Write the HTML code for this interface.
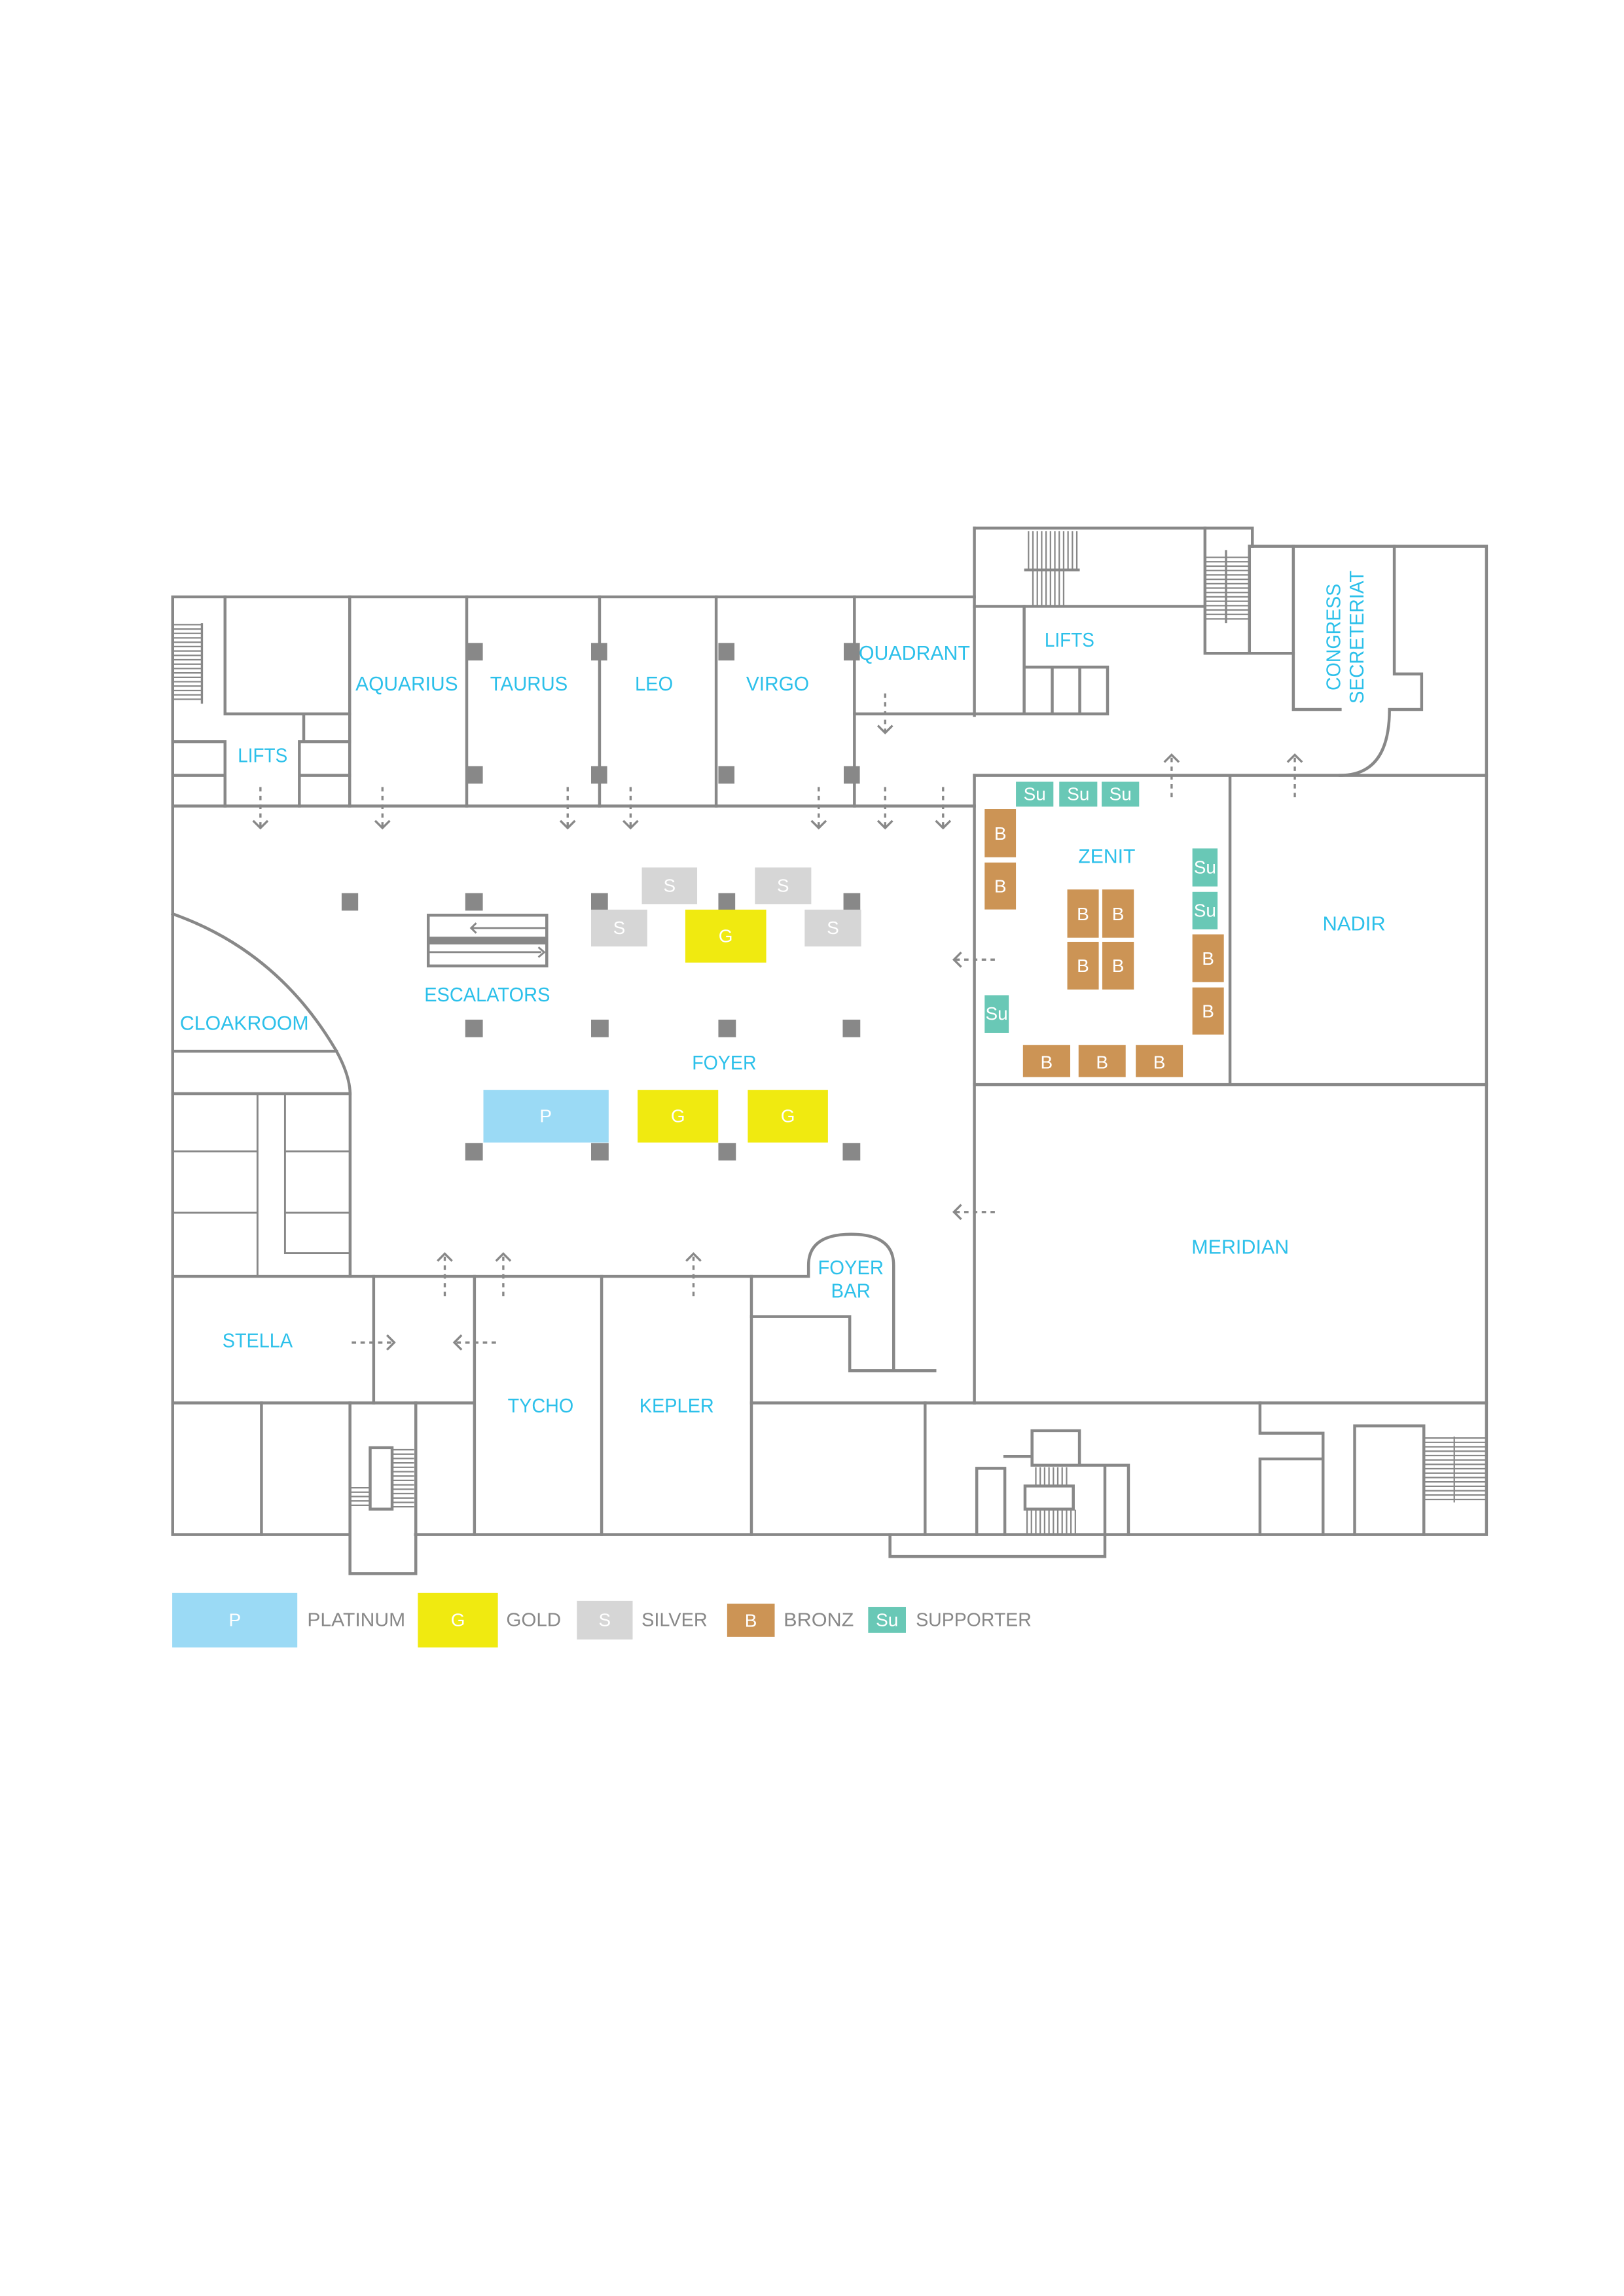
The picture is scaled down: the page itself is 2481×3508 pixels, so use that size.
<!DOCTYPE html>
<html><head><meta charset="utf-8"><style>
html,body{margin:0;padding:0;background:#fff}
svg{display:block}
text{font-family:"Liberation Sans",sans-serif}
.l{fill:#2cc0ea;font-size:13.5px}
.w{fill:#fff;font-size:12.5px;text-anchor:middle}
.g{fill:#888;font-size:13px}
</style></head><body>
<svg width="2481" height="3508" viewBox="0 0 1110 1569.5" xmlns="http://www.w3.org/2000/svg">
<g fill="none" stroke="#888" stroke-width="2" stroke-linecap="square">
<path d="M118 408 H666 M118 408 V1049 H239 M284 1049 H1016 V373.4 H854"/>
<path d="M666 361 H856 V373.4"/>
<path d="M666 361 V489 M666 530 V959"/>
<path d="M118 551 H666"/>
<path d="M239 408 V551 M319 408 V551 M409.8 408 V551 M489.5 408 V551 M584 408 V551"/>
<path d="M153.8 408 V488 H239 M207.6 488 V507 M118 507 H153.8 V551 M118 530 H153.8 M204.6 507 H239 M204.6 507 V551 M204.6 530 H239"/>
<path d="M584 488 H757 V456 H700 M700 414.5 V488 M719.2 456 V488 M738 456 V488"/>
<path d="M666 414.5 H823.6 M823.6 361 V446.6 H884 M854 373.4 V446.6"/>
<path d="M884 373.4 V485 H916 M953 373.4 V460.7 H971.7 V485 H949.7 Q949.7 530 916 530"/>
<path d="M666 530 H1016 M840.7 530 V741.4 M666 741.4 H1016 M666 959 H1016"/>
<path d="M118 624.7 Q190 650 230 718.6 Q239 735 239.3 747.6 V872.5"/>
<path d="M118 718.6 H230 M118 747.6 H239.3"/>
<path d="M118 872.5 H552.6 V865 Q552.6 843.7 581.7 843.7 Q610.8 843.7 610.8 865 V937 M580.8 937 H639 M513.6 900 H580.8 V937"/>
<path d="M513.6 872.5 V1049"/>
<path d="M118 959 H323 M513.6 959 H666"/>
<path d="M255.4 872.5 V959 M324.3 872.5 V1049 M411.2 872.5 V1049"/>
<path d="M178.7 959 V1049 M239.2 959 V1075.7 H284.2 V959"/>
<path d="M632.3 959 V1049 M608.3 1049 V1064 H755.2 V1049"/>
<path d="M667.6 1049 V1003.7 H686.8 V1049 M686.8 995.6 H705.4 M705.4 978 H737.8 V1001.6 M705.4 978 V1001.6 H771.3 V1049 M755.2 1001.6 V1049"/>
<rect x="700.6" y="1015.8" width="33" height="15.8"/>
<path d="M861.2 959 V979.7 H904.3 V1049 M861.2 997.3 H904.3 M861.2 997.3 V1049 M925.9 1049 V974.7 H973.2 V1049"/>
<rect x="253" y="989.6" width="15" height="42"/>
<rect x="292.7" y="625.6" width="81" height="34.7"/>
</g>
<g stroke="#888" fill="none" stroke-width="1.3">
<path d="M176 747.6 V872.5 M194.8 747.6 V856.6 H239 M118 787 H176 M194.8 787 H239 M118 829 H176 M194.8 829 H239"/>
<path d="M322.5 634.4 H373 M325.5 631 L322 634.4 L325.5 637.8 M292.7 650.9 H370 M368 647.5 L372 650.9 L368 654.3"/>
</g>
<rect x="292.7" y="640.3" width="81" height="5.3" fill="#888"/>
<g stroke="#888" stroke-width="1">
<path d="M119 427 H138 M119 430 H138 M119 433 H138 M119 436 H138 M119 439 H138 M119 442 H138 M119 445 H138 M119 448 H138 M119 451 H138 M119 454 H138 M119 457 H138 M119 460 H138 M119 463 H138 M119 466 H138 M119 469 H138 M119 472 H138 M119 475 H138 M119 478 H138"/>
<path d="M138 426 V481" stroke-width="1.5"/>
<path d="M703 363 V389 M706 363 V389 M709 363 V389 M712 363 V389 M715 363 V389 M718 363 V389 M721 363 V389 M724 363 V389 M727 363 V389 M730 363 V389 M733 363 V389 M736 363 V389"/>
<path d="M706 390 V414 M709 390 V414 M712 390 V414 M715 390 V414 M718 390 V414 M721 390 V414 M724 390 V414 M727 390 V414"/>
<path d="M700 389.6 H738" stroke-width="2"/>
<path d="M824 381 H854 M824 384 H854 M824 387 H854 M824 390 H854 M824 393 H854 M824 396 H854 M824 399 H854 M824 402 H854 M824 405 H854 M824 408 H854 M824 411 H854 M824 414 H854 M824 417 H854 M824 420 H854 M824 423 H854"/>
<path d="M838 376 V426" stroke-width="1.5"/>
<path d="M268 991 H283 M268 994 H283 M268 997 H283 M268 1000 H283 M268 1003 H283 M268 1006 H283 M268 1009 H283 M268 1012 H283 M268 1015 H283 M268 1018 H283 M268 1021 H283 M268 1024 H283 M268 1027 H283 M268 1030 H283"/>
<path d="M239 1017 H253 M239 1020 H253 M239 1023 H253 M239 1026 H253 M239 1029 H253"/>
<path d="M708 1003 V1015 M711 1003 V1015 M714 1003 V1015 M717 1003 V1015 M720 1003 V1015 M723 1003 V1015 M726 1003 V1015 M729 1003 V1015"/>
<path d="M702 1032 V1049 M705 1032 V1049 M708 1032 V1049 M711 1032 V1049 M714 1032 V1049 M717 1032 V1049 M720 1032 V1049 M723 1032 V1049 M726 1032 V1049 M729 1032 V1049 M732 1032 V1049 M735 1032 V1049"/>
<path d="M973 983 H1016 M973 986 H1016 M973 989 H1016 M973 992 H1016 M973 995 H1016 M973 998 H1016 M973 1001 H1016 M973 1004 H1016 M973 1007 H1016 M973 1010 H1016 M973 1013 H1016 M973 1016 H1016 M973 1019 H1016 M973 1022 H1016 M973 1025 H1016"/>
<path d="M994 982 V1027"/>
</g>
<g fill="#888">
<rect x="319" y="439.5" width="11" height="12"/><rect x="404" y="439.5" width="11" height="12"/><rect x="491" y="439.5" width="11" height="12"/><rect x="576.7" y="439.5" width="11" height="12"/>
<rect x="319" y="523.7" width="11" height="12"/><rect x="404" y="523.7" width="11" height="12"/><rect x="491" y="523.7" width="11" height="12"/><rect x="576.7" y="523.7" width="11" height="12"/>
<rect x="233.5" y="610.5" width="11.3" height="12"/><rect x="318" y="610.5" width="12" height="12"/><rect x="404" y="610.5" width="11.5" height="12"/><rect x="491" y="610.5" width="11.5" height="12"/><rect x="576.5" y="610.5" width="11.5" height="12"/>
<rect x="318" y="697" width="12" height="12"/><rect x="404" y="697" width="12" height="12"/><rect x="491" y="697" width="12" height="12"/><rect x="576" y="697" width="12" height="12"/>
<rect x="318" y="781.3" width="12" height="12"/><rect x="404" y="781.3" width="12" height="12"/><rect x="491" y="781.3" width="12" height="12"/><rect x="576" y="781.3" width="12" height="12"/>
</g>
<g fill="none" stroke="#888" stroke-width="1.5">
<g stroke-dasharray="3,3">
<path d="M178 538 V565 M261.4 538 V565 M388 538 V565 M431 538 V565 M559.6 538 V565 M605 538 V565 M644.6 538 V565 M605 474 V500"/>
<path d="M800.8 518 V545 M885 518 V545 M304 859 V886 M344 859 V886 M474 859 V886"/>
<path d="M653 656 H682 M653 828.5 H682 M240.4 917.7 H268 M312 917.7 H340"/>
</g>
<path d="M173 561 L178 566 L183 561 M256.4 561 L261.4 566 L266.4 561 M383 561 L388 566 L393 561 M426 561 L431 566 L436 561 M554.6 561 L559.6 566 L564.6 561 M600 561 L605 566 L610 561 M639.6 561 L644.6 566 L649.6 561 M600 496 L605 501 L610 496"/>
<path d="M795.8 521 L800.8 516 L805.8 521 M880 521 L885 516 L890 521 M299 862 L304 857 L309 862 M339 862 L344 857 L349 862 M469 862 L474 857 L479 862"/>
<path d="M657 651 L652 656 L657 661 M657 823.5 L652 828.5 L657 833.5 M264.5 912.7 L269.5 917.7 L264.5 922.7 M315.5 912.7 L310.5 917.7 L315.5 922.7"/>
</g>
<g fill="#d6d6d6"><rect x="438.7" y="593" width="37.8" height="25"/><rect x="516" y="593" width="38.5" height="25"/><rect x="404" y="621.8" width="38.4" height="25.2"/><rect x="550" y="621.8" width="38.6" height="25.2"/></g>
<rect x="468.4" y="621.8" width="55.3" height="36.2" fill="#f0ea10"/>
<rect x="330.4" y="745" width="85.6" height="36" fill="#9bdaf5"/>
<rect x="435.8" y="745" width="55.1" height="36" fill="#f0ea10"/>
<rect x="511.1" y="745" width="54.8" height="36" fill="#f0ea10"/>
<g fill="#69c8b6">
<rect x="694.4" y="534.4" width="25.6" height="17"/><rect x="724" y="534.4" width="26" height="17"/><rect x="753" y="534.4" width="25.6" height="17"/>
<rect x="815" y="580" width="17.2" height="26"/><rect x="815" y="609.7" width="17.2" height="25.6"/><rect x="673" y="680.3" width="16.5" height="25.7"/>
</g>
<g fill="#cc9455">
<rect x="673" y="553" width="21.4" height="33"/><rect x="673" y="589.6" width="21.4" height="32.1"/>
<rect x="729.5" y="608" width="21.5" height="33"/><rect x="753.4" y="608" width="21.6" height="33"/><rect x="729.5" y="643.8" width="21.5" height="32.6"/><rect x="753.4" y="643.8" width="21.6" height="32.6"/>
<rect x="815" y="638.7" width="21.5" height="32.6"/><rect x="815" y="675" width="21.5" height="32.2"/>
<rect x="699.2" y="714.4" width="32.3" height="21.9"/><rect x="737.2" y="714.4" width="32.2" height="21.9"/><rect x="776.3" y="714.4" width="32.2" height="21.9"/>
</g>
<g class="w">
<text x="457.6" y="609.5">S</text><text x="535.2" y="609.5">S</text><text x="423.2" y="638.5">S</text><text x="569.3" y="638.5">S</text>
<text x="496" y="644">G</text><text x="373" y="767">P</text><text x="463.4" y="767">G</text><text x="538.5" y="767">G</text>
<text x="707.2" y="547">Su</text><text x="737" y="547">Su</text><text x="765.8" y="547">Su</text>
<text x="823.6" y="597">Su</text><text x="823.6" y="626.5">Su</text><text x="681.2" y="697">Su</text>
<text x="683.7" y="574">B</text><text x="683.7" y="610">B</text>
<text x="740.2" y="629">B</text><text x="764.2" y="629">B</text><text x="740.2" y="664.5">B</text><text x="764.2" y="664.5">B</text>
<text x="825.7" y="659.5">B</text><text x="825.7" y="695.5">B</text>
<text x="715.3" y="730.5">B</text><text x="753.3" y="730.5">B</text><text x="792.4" y="730.5">B</text>
</g>
<g class="l">
<text x="243" y="472" textLength="70" lengthAdjust="spacingAndGlyphs">AQUARIUS</text>
<text x="335" y="472" textLength="53" lengthAdjust="spacingAndGlyphs">TAURUS</text>
<text x="434" y="472" textLength="26" lengthAdjust="spacingAndGlyphs">LEO</text>
<text x="510" y="472" textLength="43" lengthAdjust="spacingAndGlyphs">VIRGO</text>
<text x="587" y="451" textLength="76" lengthAdjust="spacingAndGlyphs">QUADRANT</text>
<text x="162.5" y="521" textLength="34" lengthAdjust="spacingAndGlyphs">LIFTS</text>
<text x="714" y="442" textLength="34" lengthAdjust="spacingAndGlyphs">LIFTS</text>
<text x="737" y="590" textLength="39" lengthAdjust="spacingAndGlyphs">ZENIT</text>
<text x="904" y="636" textLength="43" lengthAdjust="spacingAndGlyphs">NADIR</text>
<text x="814.4" y="857" textLength="66.6" lengthAdjust="spacingAndGlyphs">MERIDIAN</text>
<text x="290" y="684.5" textLength="86" lengthAdjust="spacingAndGlyphs">ESCALATORS</text>
<text x="123" y="704" textLength="88" lengthAdjust="spacingAndGlyphs">CLOAKROOM</text>
<text x="473" y="731" textLength="44" lengthAdjust="spacingAndGlyphs">FOYER</text>
<text x="559" y="871" textLength="45" lengthAdjust="spacingAndGlyphs">FOYER</text>
<text x="568" y="887" textLength="27" lengthAdjust="spacingAndGlyphs">BAR</text>
<text x="152" y="921" textLength="48" lengthAdjust="spacingAndGlyphs">STELLA</text>
<text x="347" y="965.5" textLength="45" lengthAdjust="spacingAndGlyphs">TYCHO</text>
<text x="437" y="965.5" textLength="51" lengthAdjust="spacingAndGlyphs">KEPLER</text>
<text transform="translate(916 472) rotate(-90)" textLength="73" lengthAdjust="spacingAndGlyphs">CONGRESS</text>
<text transform="translate(932 481) rotate(-90)" textLength="91" lengthAdjust="spacingAndGlyphs">SECRETERIAT</text>
</g>
<rect x="117.7" y="1088.9" width="85.5" height="37.3" fill="#9bdaf5"/>
<rect x="285.6" y="1088.9" width="54.7" height="37.3" fill="#f0ea10"/>
<rect x="394.3" y="1094.3" width="38.1" height="26.4" fill="#d6d6d6"/>
<rect x="497" y="1096.3" width="32.5" height="22.6" fill="#cc9455"/>
<rect x="593.4" y="1098.4" width="25.8" height="17.8" fill="#69c8b6"/>
<g class="w"><text x="160.5" y="1111.5">P</text><text x="313" y="1111.5">G</text><text x="413.3" y="1111.5">S</text><text x="513.2" y="1112">B</text><text x="606.3" y="1111.5">Su</text></g>
<g class="g">
<text x="210" y="1111.5" textLength="67" lengthAdjust="spacingAndGlyphs">PLATINUM</text>
<text x="346" y="1111.5" textLength="37.5" lengthAdjust="spacingAndGlyphs">GOLD</text>
<text x="438.5" y="1111.5" textLength="45" lengthAdjust="spacingAndGlyphs">SILVER</text>
<text x="535.6" y="1111.5" textLength="48" lengthAdjust="spacingAndGlyphs">BRONZ</text>
<text x="626" y="1111.5" textLength="79" lengthAdjust="spacingAndGlyphs">SUPPORTER</text>
</g>
</svg>
</body></html>
